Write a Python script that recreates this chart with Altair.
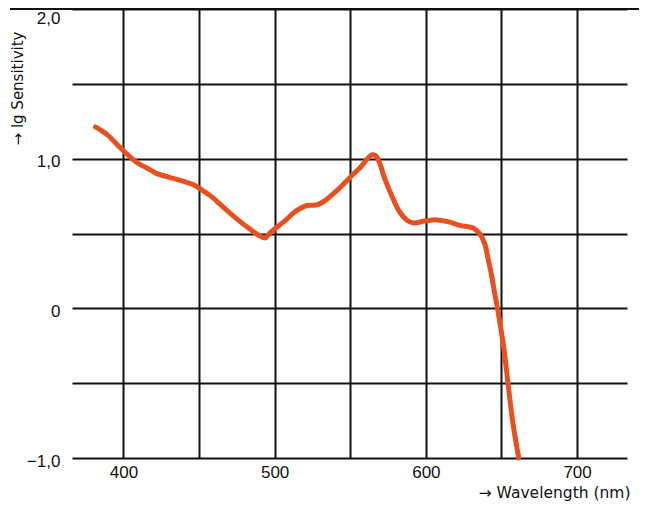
import altair as alt
import pandas as pd

wavelength = [381.5, 389.2, 395.8, 400.2, 409.0, 417.8, 422.2, 431.0, 439.8, 446.4,
              450.4, 457.4, 466.2, 475.0, 483.8, 489.1, 493.7, 497.0, 501.5, 505.8,
              514.7, 521.3, 527.9, 533.3, 541.1, 549.8, 557.6, 562.0, 564.6, 567.0,
              569.3, 572.9, 578.4, 582.8, 587.5, 591.4, 599.3, 607.1, 615.8, 622.4,
              631.2, 635.6, 638.9, 641.1, 643.4, 645.5, 647.7, 651.5, 654.3, 657.6,
              661.4]
lg_sensitivity = [1.212, 1.161, 1.095, 1.051, 0.974, 0.925, 0.900, 0.874, 0.848, 0.826,
                  0.801, 0.753, 0.675, 0.598, 0.528, 0.490, 0.470, 0.505, 0.543, 0.576,
                  0.654, 0.687, 0.691, 0.720, 0.786, 0.874, 0.952, 1.008, 1.026, 1.018,
                  0.975, 0.863, 0.730, 0.642, 0.589, 0.571, 0.583, 0.591, 0.576, 0.554,
                  0.536, 0.499, 0.432, 0.333, 0.223, 0.101, -0.020, -0.263, -0.499, -0.770,
                  -1.0]

x_grid = [400, 450, 500, 550, 600, 650, 700]
y_grid = [-1.0, -0.5, 0.0, 0.5, 1.0, 1.5, 2.0]

df = pd.DataFrame({"wl": wavelength, "lg": lg_sensitivity})

W, H = 555, 449
LABEL_FONT = "Liberation Sans"
TITLE_FONT = "DejaVu Sans"

x_scale = alt.Scale(domain=[366, 733], nice=False, zero=False)
y_scale = alt.Scale(domain=[-1.0, 2.0], nice=False, zero=False)

line = alt.Chart(df).mark_line(
    color="#E8501F", strokeWidth=5, interpolate="catmull-rom", strokeCap="round"
).encode(
    x=alt.X("wl:Q", scale=x_scale, axis=alt.Axis(
        values=x_grid, grid=True, gridColor="#111111", gridWidth=2, gridOpacity=1,
        domain=False, ticks=False,
        labelExpr="datum.value % 100 == 0 ? datum.value : ''",
        labelFont=LABEL_FONT, labelFontSize=17, labelColor="#111111", labelPadding=6,
        title="→ Wavelength (nm)", titleFont=TITLE_FONT, titleFontSize=15.5,
        titleFontWeight="normal", titleColor="#111111",
        titleAnchor="end", titleAlign="right", titleBaseline="alphabetic",
        titleX=558, titleY=39,
    )),
    y=alt.Y("lg:Q", scale=y_scale, axis=alt.Axis(
        values=y_grid, grid=True, gridColor="#111111", gridWidth=2, gridOpacity=1,
        domain=False, ticks=False,
        labelExpr="datum.value == 2 ? '2,0' : datum.value == 1 ? '1,0' : datum.value == 0 ? '0' : datum.value == -1 ? '\u22121,0' : ''",
        labelFont=LABEL_FONT, labelFontSize=17, labelColor="#111111", labelPadding=12,
        labelBaseline="middle",
        labelOffset={"condition": {"test": "datum.value == 2", "value": 9}, "value": 3},
        title="→ lg Sensitivity", titleFont=TITLE_FONT, titleFontSize=15,
        titleFontWeight="normal", titleColor="#111111",
        titleAngle=-90, titleAlign="center", titleBaseline="middle",
        titleX=-55, titleY=79,
    )),
)

top_line = alt.Chart(pd.DataFrame({"a": [0]})).mark_rule(
    color="#111111", strokeWidth=2, clip=False
).encode(x=alt.value(-62), x2=alt.value(W + 12), y=alt.value(0))

chart = alt.layer(line, top_line).properties(
    width=W, height=H,
    autosize=alt.AutoSizeParams(type="none"),
    padding={"left": 64, "top": 1, "right": 12, "bottom": 43},
).configure_view(stroke=None)

chart.save("out.html", embed_options={"renderer": "svg", "actions": False})
